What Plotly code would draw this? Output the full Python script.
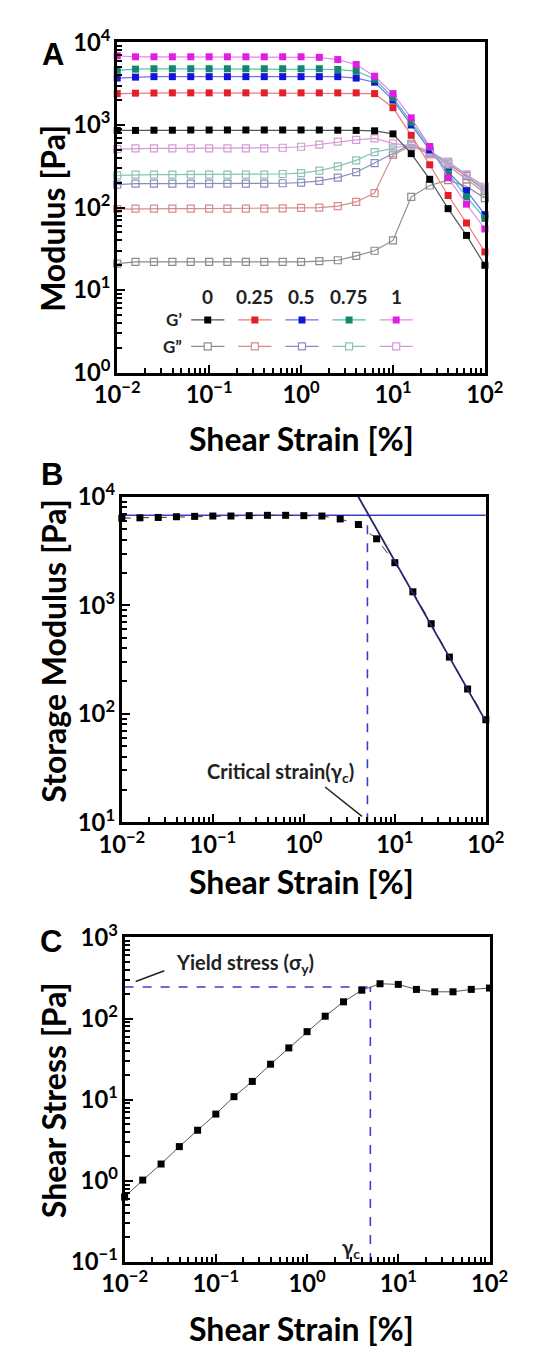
import plotly.graph_objects as go

W, H = 551, 1356

# ---------------- data ----------------
strain = [0.01, 0.0158, 0.0251, 0.0398, 0.0631, 0.1, 0.158, 0.251, 0.398, 0.631,
          1.0, 1.58, 2.51, 3.98, 6.31, 10.0, 15.8, 25.1, 39.8, 63.1, 100.0]

conc_labels = ["0", "0.25", "0.5", "0.75", "1"]

# Panel A : storage modulus G' [Pa]
gp_0 = [860, 860, 865, 865, 870, 870, 870, 870, 870, 870, 870, 870, 865, 860, 850,
        780, 450, 220, 97, 46, 20]
gp_025 = [2400, 2430, 2440, 2450, 2450, 2450, 2450, 2450, 2450, 2450, 2450, 2450, 2450, 2450, 2400,
          1620, 750, 330, 140, 65, 29]
gp_05 = [3700, 3800, 3850, 3850, 3850, 3850, 3850, 3850, 3850, 3850, 3850, 3850, 3850, 3700, 3300,
         2000, 1000, 500, 270, 160, 82]
gp_075 = [4600, 4750, 4800, 4800, 4800, 4800, 4800, 4800, 4800, 4800, 4800, 4800, 4700, 4500, 3600,
          2150, 1080, 540, 260, 135, 74]
gp_1 = [6900, 6700, 6700, 6700, 6700, 6700, 6700, 6700, 6700, 6700, 6700, 6600, 6200, 5400, 3900,
        2400, 1220, 550, 230, 110, 55]

# Panel A : loss modulus G'' [Pa]
gpp_0 = [21, 22, 22, 22, 22, 22, 22, 22, 22, 22, 22, 22.5, 23, 26, 30,
         40, 135, 185, 215, 180, 130]
gpp_025 = [96, 97, 97, 97, 97, 97, 97, 97, 97, 98, 99, 100, 104, 117, 150,
           435, 560, 440, 320, 220, 150]
gpp_05 = [190, 195, 195, 195, 195, 195, 195, 195, 195, 197, 200, 210, 230, 268, 346,
          455, 590, 460, 340, 240, 160]
gpp_075 = [245, 250, 250, 250, 250, 250, 250, 250, 250, 255, 262, 280, 316, 373, 470,
           520, 580, 480, 360, 250, 170]
gpp_1 = [510, 520, 520, 520, 520, 520, 520, 520, 520, 530, 545, 580, 630, 660, 690,
         600, 560, 470, 350, 250, 180]

# Panel B : storage modulus of one sample with fits
storage_b = [6350, 6400, 6450, 6550, 6600, 6650, 6650, 6700, 6750, 6750, 6700, 6650, 6250, 5550,
             4100, 2470, 1330, 676, 333, 169, 88]
plateau_modulus = 6750          # horizontal fit line [Pa]
fit_strain = [3.97, 100.0]      # power-law fit through the flow region
fit_modulus = [10000, 85]
critical_strain = 5.0           # gamma_c [%]

# Panel C : shear stress
stress_c = [0.63, 1.02, 1.61, 2.64, 4.2, 6.65, 10.9, 16.8, 27.4, 43.5, 69, 107, 161, 224,
            269, 264, 229, 214, 214, 229, 238]
yield_stress = 245
yield_strain = 4.94

# ---------------- styling ----------------
gp_marker_colors = ["#000000", "#e3202a", "#1414d8", "#13876c", "#e01ee0"]
gp_line_colors = ["#555555", "#f07878", "#7070e8", "#40c8b0", "#f080f0"]
gpp_colors = ["#8c8c8c", "#d48c8c", "#8c8cbc", "#8cc2b4", "#d49ad4"]

FONT = "Lato"


def xdom(l, r):
    return [l / W, r / W]


def ydom(t, b):
    return [1 - b / H, 1 - t / H]


def px(x):
    return x / W


def py(y):
    return 1 - y / H


panels = {
    "A": dict(l=102, r=500, t=25, b=363, yr=[0, 4]),
    "B": dict(l=107, r=501, t=490, b=823, yr=[1, 4]),
    "C": dict(l=110, r=505, t=941, b=1273, yr=[-1, 3]),
}

fig = go.Figure()

# Panel A traces
gpp_series = [gpp_0, gpp_025, gpp_05, gpp_075, gpp_1]
gp_series = [gp_0, gp_025, gp_05, gp_075, gp_1]
for vals, col in zip(gpp_series, gpp_colors):
    fig.add_trace(go.Scatter(x=strain, y=vals, mode="lines+markers", xaxis="x", yaxis="y",
                             line=dict(color=col, width=1.2),
                             marker=dict(symbol="square-open", size=7, color=col,
                                         line=dict(width=1.2, color=col)),
                             showlegend=False, cliponaxis=False))
for vals, mc, lc in zip(gp_series, gp_marker_colors, gp_line_colors):
    fig.add_trace(go.Scatter(x=strain, y=vals, mode="lines+markers", xaxis="x", yaxis="y",
                             line=dict(color=lc, width=1.2),
                             marker=dict(symbol="square", size=7, color=mc),
                             showlegend=False, cliponaxis=False))

# Panel B traces
fig.add_trace(go.Scatter(x=[strain[0], strain[-1]], y=[plateau_modulus, plateau_modulus],
                         mode="lines", xaxis="x2", yaxis="y2",
                         line=dict(color="#3c3cd2", width=1.6), showlegend=False))
fig.add_trace(go.Scatter(x=[critical_strain, critical_strain], y=[10, plateau_modulus],
                         mode="lines", xaxis="x2", yaxis="y2",
                         line=dict(color="#3c3cd2", width=1.6, dash="dash"), showlegend=False))
fig.add_trace(go.Scatter(x=strain, y=storage_b, mode="lines+markers", xaxis="x2", yaxis="y2",
                         line=dict(color="#333333", width=1, dash="dash"),
                         marker=dict(symbol="square", size=7, color="black"),
                         showlegend=False, cliponaxis=False))
fig.add_trace(go.Scatter(x=fit_strain, y=fit_modulus, mode="lines", xaxis="x2", yaxis="y2",
                         line=dict(color="#23236e", width=1.8), showlegend=False))

# Panel C traces
fig.add_trace(go.Scatter(x=[strain[0], yield_strain], y=[yield_stress, yield_stress],
                         mode="lines", xaxis="x3", yaxis="y3",
                         line=dict(color="#3c3cd2", width=1.6, dash="dash"), showlegend=False))
fig.add_trace(go.Scatter(x=[yield_strain, yield_strain], y=[0.1, yield_stress],
                         mode="lines", xaxis="x3", yaxis="y3",
                         line=dict(color="#3c3cd2", width=1.6, dash="dash"), showlegend=False))
fig.add_trace(go.Scatter(x=strain, y=stress_c, mode="lines+markers", xaxis="x3", yaxis="y3",
                         line=dict(color="#555555", width=1),
                         marker=dict(symbol="square", size=7, color="black"),
                         showlegend=False, cliponaxis=False))

# Legend for panel A (overlay axes in pixel units)
leg_x0, leg_dx = 200, 51
row_gp, row_gpp, row_head = 309, 336, 285
half = 18
for i, lab in enumerate(conc_labels):
    cx = leg_x0 + leg_dx * i
    fig.add_trace(go.Scatter(x=[cx - half, cx, cx + half], y=[row_gp] * 3, mode="lines",
                             xaxis="x4", yaxis="y4", line=dict(color=gp_line_colors[i], width=1.2),
                             showlegend=False))
    fig.add_trace(go.Scatter(x=[cx], y=[row_gp], mode="markers", xaxis="x4", yaxis="y4",
                             marker=dict(symbol="square", size=7, color=gp_marker_colors[i]),
                             showlegend=False))
    fig.add_trace(go.Scatter(x=[cx - half, cx + half], y=[row_gpp] * 2, mode="lines",
                             xaxis="x4", yaxis="y4", line=dict(color=gpp_colors[i], width=1.2),
                             showlegend=False))
    fig.add_trace(go.Scatter(x=[cx], y=[row_gpp], mode="markers", xaxis="x4", yaxis="y4",
                             marker=dict(symbol="square", size=7, color="white",
                                         line=dict(width=1.2, color=gpp_colors[i])),
                             showlegend=False))


def log_axis(dom, rng, anchor):
    return dict(type="log", domain=dom, range=rng, anchor=anchor,
                showline=True, linewidth=3, linecolor="black", mirror=True,
                ticks="inside", ticklen=8, tickwidth=2, tickcolor="black",
                dtick=1, exponentformat="power",
                labelalias={"1": "10<sup>0</sup>", "10": "10<sup>1</sup>"},
                showgrid=False, zeroline=False,
                tickfont=dict(family=FONT, size=19, color="black", weight="bold"),
                minor=dict(ticks="inside", ticklen=5, tickwidth=1.5, tickcolor="black",
                           dtick="D1", showgrid=False))


layout = dict(width=W, height=H, margin=dict(l=0, r=0, t=0, b=0),
              paper_bgcolor="white", plot_bgcolor="white", showlegend=False)
for idx, key in enumerate(["A", "B", "C"], start=1):
    p = panels[key]
    sfx = "" if idx == 1 else str(idx)
    layout["xaxis" + sfx] = log_axis(xdom(p["l"], p["r"]), [-2, 2], "y" + sfx)
    layout["yaxis" + sfx] = log_axis(ydom(p["t"], p["b"]), p["yr"], "x" + sfx)

pA = panels["A"]
layout["xaxis4"] = dict(domain=xdom(pA["l"], pA["r"]), range=[pA["l"], pA["r"]], anchor="y4",
                        visible=False, overlaying="x", showticklabels=False)
layout["yaxis4"] = dict(domain=ydom(pA["t"], pA["b"]), range=[pA["b"], pA["t"]], anchor="x4",
                        visible=False, overlaying="y", showticklabels=False)
fig.update_layout(**layout)

ann = []
title_font = dict(family=FONT, size=32, color="black", weight="bold")
letter_font = dict(family="Liberation Sans", size=31, color="black", weight="bold")
for key, lx, ly in [("A", 33, 37), ("B", 31, 467), ("C", 30, 945)]:
    ann.append(dict(text=key, x=px(lx), y=py(ly), xref="paper", yref="paper",
                    showarrow=False, font=letter_font, xanchor="center", yanchor="middle"))
for txt, yy in [("Shear Strain [%]", 430), ("Shear Strain [%]", 884), ("Shear Strain [%]", 1341)]:
    ann.append(dict(text=txt, x=px(302), y=py(yy), xref="paper", yref="paper",
                    showarrow=False, font=title_font, xanchor="center", yanchor="middle"))
for txt, xx, yy in [("Modulus [Pa]", 32, 205), ("Storage Modulus [Pa]", 33, 648),
                    ("Shear Stress [Pa]", 33, 1107)]:
    ann.append(dict(text=txt, x=px(xx), y=py(yy), xref="paper", yref="paper", textangle=-90,
                    showarrow=False, font=title_font, xanchor="center", yanchor="middle"))

small_font = dict(family=FONT, size=20, color="#222222", weight="bold")
ann.append(dict(text="Critical strain(γ<sub>c</sub>)", x=px(279), y=py(772), xref="paper",
                yref="paper", showarrow=False, font=small_font, xanchor="center", yanchor="middle"))
ann.append(dict(text="Yield stress (σ<sub>y</sub>)", x=px(240), y=py(968), xref="paper",
                yref="paper", showarrow=False, font=small_font, xanchor="center", yanchor="middle"))
ann.append(dict(text="γ<sub>c</sub>", x=px(355), y=py(1259), xref="paper",
                yref="paper", showarrow=False, font=small_font, xanchor="center", yanchor="middle"))

# legend headers and row labels
leg_font = dict(family=FONT, size=19, color="#222222", weight="bold")
for i, lab in enumerate(conc_labels):
    ann.append(dict(text=lab, x=px(leg_x0 + leg_dx * i), y=py(row_head), xref="paper", yref="paper",
                    showarrow=False, font=leg_font, xanchor="center", yanchor="middle"))
row_font = dict(family=FONT, size=17, color="#222222", weight="bold")
ann.append(dict(text="G’", x=px(174), y=py(row_gp), xref="paper", yref="paper",
                showarrow=False, font=row_font, xanchor="right", yanchor="middle"))
ann.append(dict(text="G”", x=px(174), y=py(row_gpp), xref="paper", yref="paper",
                showarrow=False, font=row_font, xanchor="right", yanchor="middle"))

fig.update_layout(annotations=ann)

shapes = [
    dict(type="line", xref="paper", yref="paper", x0=px(327), y0=py(787), x1=px(367), y1=py(817),
         line=dict(color="#222222", width=1.5)),
    dict(type="line", xref="paper", yref="paper", x0=px(153), y0=py(975), x1=px(122), y1=py(986),
         line=dict(color="#222222", width=1.5)),
]
fig.update_layout(shapes=shapes)

fig.write_html("out.html")
